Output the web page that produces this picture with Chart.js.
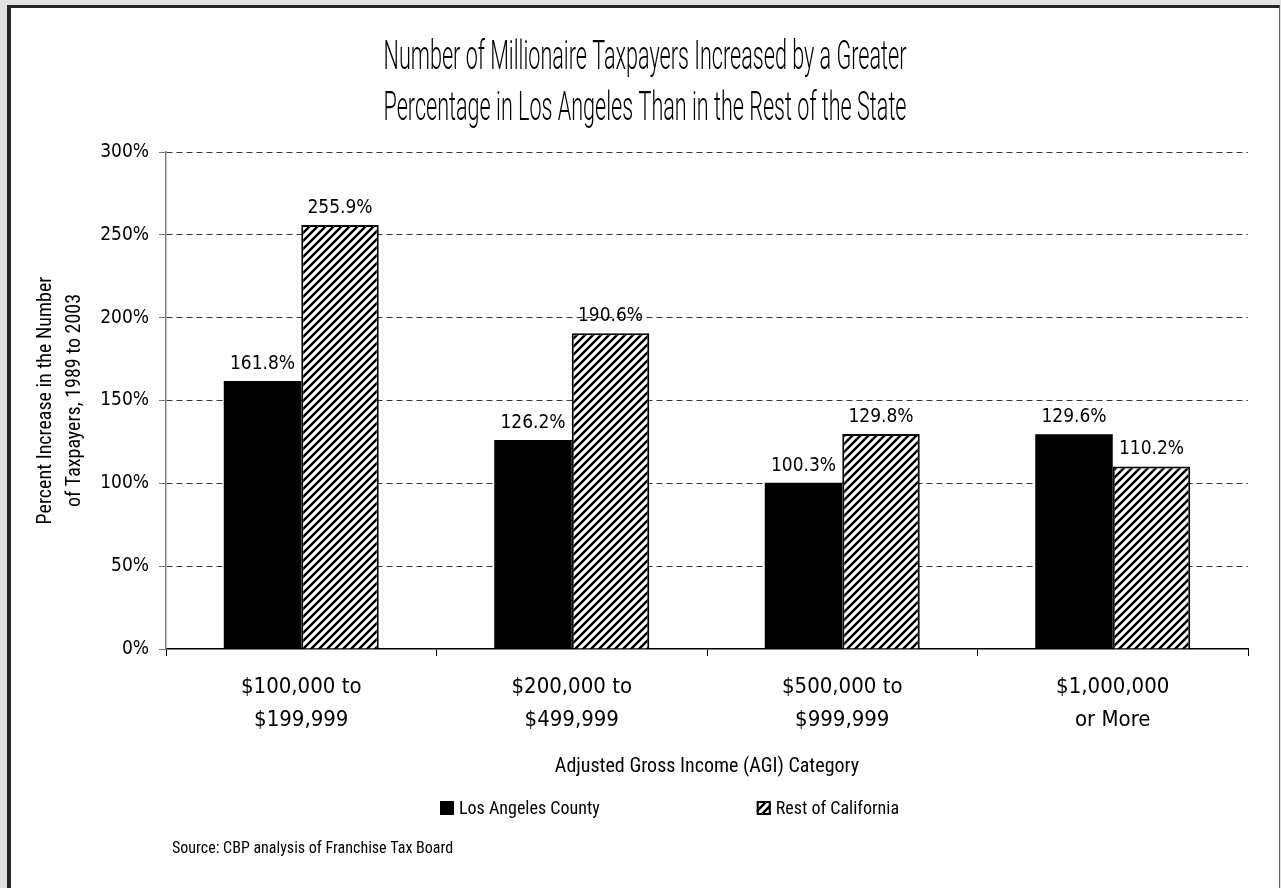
<!DOCTYPE html>
<html>
<head>
<meta charset="utf-8">
<title>Millionaire Taxpayers</title>
<script src="https://cdn.jsdelivr.net/npm/chart.js@4.4.1/dist/chart.umd.min.js"></script>
<style>
  html, body { margin: 0; padding: 0; width: 1281px; height: 888px; overflow: hidden; background: #e2e2e2; }
  #frame { position: absolute; left: 7px; top: 5px; width: 1268px; height: 883px; background: #fff;
           border-left: 4px solid #262626; border-top: 3px solid #262626; border-right: 1px solid #666; }
  #wrap { position: absolute; left: 0; top: 0; width: 1281px; height: 888px; }
</style>
</head>
<body>
<div id="frame"></div>
<div id="wrap"><canvas id="chart" width="1281" height="888"></canvas></div>
<script>
// ---- data ----
const categories = [
  ['$100,000 to', '$199,999'],
  ['$200,000 to', '$499,999'],
  ['$500,000 to', '$999,999'],
  ['$1,000,000', 'or More']
];
const seriesNames = ['Los Angeles County', 'Rest of California'];
const losAngelesCounty = [161.8, 126.2, 100.3, 129.6];
const restOfCalifornia = [255.9, 190.6, 129.8, 110.2];
const yTickValues = [0, 50, 100, 150, 200, 250, 300];
const titleLines = [
  'Number of Millionaire Taxpayers Increased by a Greater',
  'Percentage in Los Angeles Than in the Rest of the State'
];
const yAxisTitle = ['Percent Increase in the Number', 'of Taxpayers, 1989 to 2003'];
const xAxisTitle = 'Adjusted Gross Income (AGI) Category';
const sourceNote = 'Source: CBP analysis of Franchise Tax Board';

// ---- styles ----
const WORD_FONT = "'Roboto Condensed', 'DejaVu Sans Condensed', 'Liberation Sans', sans-serif";
const NUM_FONT = "'DejaVu Sans Condensed', 'Roboto Condensed', 'Liberation Sans', sans-serif";
const TITLE_FONT = "300 40px Roboto, 'Liberation Sans', sans-serif";
const TITLE_STRETCH = 0.54;
const INK = '#000';

Chart.defaults.font.family = WORD_FONT;
Chart.defaults.color = INK;

function hatchPattern() {
  const c = document.createElement('canvas');
  c.width = 8; c.height = 8;
  const g = c.getContext('2d');
  g.fillStyle = '#fff';
  g.fillRect(0, 0, 8, 8);
  g.strokeStyle = '#000';
  g.lineWidth = 2.5;
  g.beginPath();
  g.moveTo(-2, 10); g.lineTo(10, -2);
  g.moveTo(-6, 6); g.lineTo(6, -6);
  g.moveTo(2, 14); g.lineTo(14, 2);
  g.stroke();
  return g.createPattern(c, 'repeat');
}
const hatch = hatchPattern();

// text drawn around the plot: title, value labels, legend, source line
const annotations = {
  id: 'annotations',
  afterDatasetsDraw(chart) {
    const ctx = chart.ctx;
    ctx.save();
    ctx.font = "19px " + NUM_FONT;
    ctx.fillStyle = INK;
    ctx.textAlign = 'center';
    ctx.textBaseline = 'alphabetic';
    chart.data.datasets.forEach((ds, di) => {
      chart.getDatasetMeta(di).data.forEach((bar, i) => {
        ctx.fillText(ds.data[i].toFixed(1) + '%', bar.x, bar.y - 12);
      });
    });
    ctx.restore();
  },
  afterDraw(chart) {
    const ctx = chart.ctx;
    const area = chart.chartArea;
    ctx.save();
    // title, drawn in a tall condensed face
    ctx.fillStyle = INK;
    ctx.font = TITLE_FONT;
    ctx.textAlign = 'center';
    ctx.textBaseline = 'alphabetic';
    const cx = 645;
    [69, 120].forEach((y, i) => {
      ctx.save();
      ctx.translate(cx, y);
      ctx.scale(TITLE_STRETCH, 1);
      ctx.fillText(titleLines[i], 0, 0);
      ctx.restore();
    });

    // legend
    ctx.font = "18px " + WORD_FONT;
    ctx.textAlign = 'left';
    ctx.textBaseline = 'middle';
    const box = 14, gapText = 5, gapItems = 157, ly = 808;
    let x = area.left + 274;
    chart.data.datasets.forEach((ds, i) => {
      ctx.fillStyle = ds.backgroundColor;
      ctx.fillRect(x, ly - box / 2, box, box);
      if (ds.borderWidth) {
        ctx.strokeStyle = ds.borderColor;
        ctx.lineWidth = 2;
        ctx.strokeRect(x + 1, ly - box / 2 + 1, box - 2, box - 2);
      }
      ctx.fillStyle = INK;
      ctx.fillText(ds.label, x + box + gapText, ly + 1);
      x += box + gapText + ctx.measureText(ds.label).width + gapItems;
    });

    // source line
    ctx.font = "16px " + WORD_FONT;
    ctx.fillText(sourceNote, area.left + 6, 849);
    ctx.restore();
  }
};

new Chart(document.getElementById('chart'), {
  type: 'bar',
  data: {
    labels: categories,
    datasets: [
      { label: seriesNames[0], data: losAngelesCounty, backgroundColor: '#000', borderWidth: 0 },
      { label: seriesNames[1], data: restOfCalifornia, backgroundColor: hatch, borderColor: '#000', borderWidth: 2 }
    ]
  },
  options: {
    responsive: false,
    animation: false,
    devicePixelRatio: 1,
    layout: { padding: { left: 0, right: 33, top: 152, bottom: 104 } },
    datasets: { bar: { categoryPercentage: 0.573, barPercentage: 1.0 } },
    plugins: {
      legend: { display: false },
      title: { display: false },
      tooltip: { enabled: false }
    },
    scales: {
      x: {
        grid: { drawOnChartArea: false, drawTicks: true, tickLength: 7, color: '#000', offset: true },
        border: { display: true, color: '#000', width: 1.5 },
        ticks: { font: { family: NUM_FONT, size: 22, lineHeight: 33 / 22 }, padding: 15, color: INK, maxRotation: 0 },
        title: { display: true, text: xAxisTitle, font: { size: 20, lineHeight: 1.2 }, padding: { top: 0, bottom: 5 }, color: INK },
        afterFit(s) { s.height = 135; }
      },
      y: {
        min: 0, max: 300,
        afterBuildTicks(s) { s.ticks = yTickValues.map(v => ({ value: v })); },
        grid: {
          color: ctx => (ctx.tick && ctx.tick.value === 0 ? 'rgba(0,0,0,0)' : '#3a3a3a'),
          tickColor: '#777', tickLength: 7, lineWidth: 1, tickBorderDash: []
        },
        border: { display: true, color: '#808080', width: 1.5, dash: [6, 4] },
        ticks: { font: { family: NUM_FONT, size: 19 }, padding: 10, color: INK, callback: v => v + '%' },
        title: { display: true, text: yAxisTitle, font: { size: 20, lineHeight: 1.45 }, padding: { top: 31, bottom: 0 }, color: INK },
        afterFit(s) { s.width = 166; }
      }
    }
  },
  plugins: [annotations]
});
</script>
</body>
</html>
